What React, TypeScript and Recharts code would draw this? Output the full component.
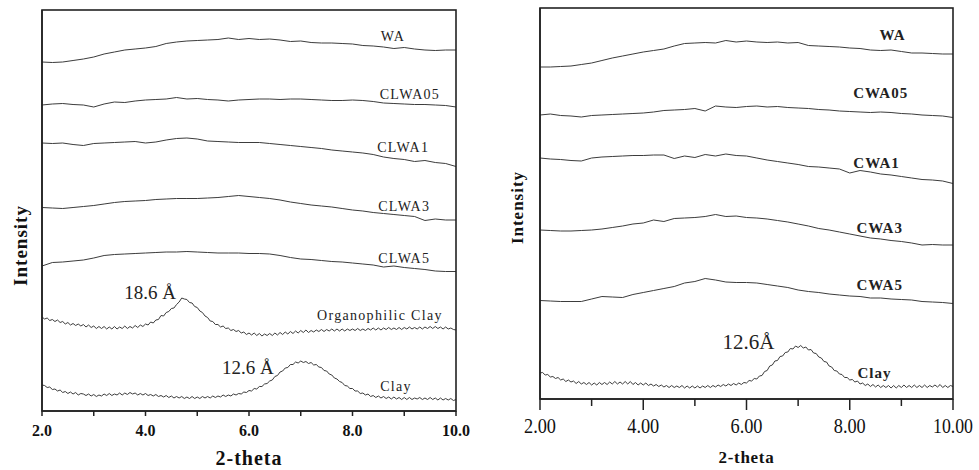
import { LineChart, Line, XAxis, YAxis, ReferenceDot } from 'recharts';

const SERIF = "'Liberation Serif', 'Times New Roman', serif";
const INK = '#222';
const TRACE = '#3c3c3c';

// 2-theta grids
const thetaHalf = [
  2.0, 2.05, 2.1, 2.15, 2.2, 2.25, 2.3, 2.35, 2.4, 2.45, 2.5, 2.55, 2.6, 2.65, 2.7, 2.75, 2.8, 2.85, 2.9, 2.95,
  3.0, 3.05, 3.1, 3.15, 3.2, 3.25, 3.3, 3.35, 3.4, 3.45, 3.5, 3.55, 3.6, 3.65, 3.7, 3.75, 3.8, 3.85, 3.9, 3.95,
  4.0, 4.05, 4.1, 4.15, 4.2, 4.25, 4.3, 4.35, 4.4, 4.45, 4.5, 4.55, 4.6, 4.65, 4.7, 4.75, 4.8, 4.85, 4.9, 4.95,
  5.0, 5.05, 5.1, 5.15, 5.2, 5.25, 5.3, 5.35, 5.4, 5.45, 5.5, 5.55, 5.6, 5.65, 5.7, 5.75, 5.8, 5.85, 5.9, 5.95,
  6.0, 6.05, 6.1, 6.15, 6.2, 6.25, 6.3, 6.35, 6.4, 6.45, 6.5, 6.55, 6.6, 6.65, 6.7, 6.75, 6.8, 6.85, 6.9, 6.95,
  7.0, 7.05, 7.1, 7.15, 7.2, 7.25, 7.3, 7.35, 7.4, 7.45, 7.5, 7.55, 7.6, 7.65, 7.7, 7.75, 7.8, 7.85, 7.9, 7.95,
  8.0, 8.05, 8.1, 8.15, 8.2, 8.25, 8.3, 8.35, 8.4, 8.45, 8.5, 8.55, 8.6, 8.65, 8.7, 8.75, 8.8, 8.85, 8.9, 8.95,
  9.0, 9.05, 9.1, 9.15, 9.2, 9.25, 9.3, 9.35, 9.4, 9.45, 9.5, 9.55, 9.6, 9.65, 9.7, 9.75, 9.8, 9.85, 9.9, 9.95,
  10.0,
];
const thetaCoarse = [
  2.0, 2.2, 2.4, 2.6, 2.8, 3.0, 3.2, 3.4, 3.6, 3.8,
  4.0, 4.2, 4.4, 4.6, 4.8, 5.0, 5.2, 5.4, 5.6, 5.8,
  6.0, 6.2, 6.4, 6.6, 6.8, 7.0, 7.2, 7.4, 7.6, 7.8,
  8.0, 8.2, 8.4, 8.6, 8.8, 9.0, 9.2, 9.4, 9.6, 9.8, 10.0,
];
const xTicks = [2, 3, 4, 5, 6, 7, 8, 9, 10];

// left panel (stacked intensities, a.u.)
const waLeft = [349, 348.5, 349, 350.5, 352, 354, 357, 359, 361, 362, 363, 364.5, 367.5, 369, 370, 370.5, 371, 371.5, 373, 371.5, 372.5, 371.5, 372, 371, 369.5, 370, 368.5, 368, 368, 367.5, 367, 365.5, 365, 364, 362.5, 363.5, 362, 361, 360.5, 361, 361];
const clwa05 = [306, 307, 307.5, 306.5, 306, 304, 307, 309, 308.5, 310, 311, 311.5, 312, 313.5, 312, 312.5, 311.5, 311, 310, 311, 311.5, 312, 312, 311.5, 312, 312, 311.5, 311, 310.5, 310.5, 311, 310.5, 309.5, 308, 307.5, 307, 306.5, 306.5, 306, 305.5, 304];
const clwa1 = [268, 267.5, 268, 266.5, 265.5, 267.5, 268, 268.5, 269, 269.5, 268, 269, 271, 272.5, 273, 272, 270, 269.5, 269, 268.5, 268.5, 268.5, 267.5, 266.5, 265.5, 264.5, 263.5, 262.5, 261, 260, 259, 258, 256.5, 254, 252.5, 251.5, 249.5, 250.5, 248.5, 247.5, 244.5];
const clwa3 = [203.5, 203, 202.5, 203.5, 204.5, 205.5, 207, 208.5, 209.5, 210, 210.5, 211.5, 212, 212.5, 212.5, 212.5, 213, 213.5, 214.5, 215.5, 214.5, 213.5, 212.5, 211, 209, 207.5, 206, 205, 204, 202.5, 201, 200, 198.5, 197.5, 196.5, 195.5, 194.5, 190.5, 192, 191, 191];
const clwa5 = [145, 148.5, 149, 150, 151, 153, 155.5, 156.5, 157, 157.5, 158, 158.5, 159, 159, 159.5, 159, 158.5, 158, 158, 158, 157.5, 157.5, 157, 155.5, 153.5, 152, 151.5, 150.5, 149.5, 149, 148, 147, 146, 144, 145, 143.5, 142.5, 141.5, 140, 139.5, 139.5];
const orgClay = [
  94, 92, 93, 90.5, 91.5, 89.5, 91, 88.5, 89.5, 87, 88.5, 86, 87.5, 85.5, 87, 85, 86.5, 84, 86, 83.5,
  85, 82.5, 84.5, 82.5, 84.5, 82, 84, 82, 84.5, 82, 84, 82.5, 85, 82.5, 84.5, 83, 85.5, 83.5, 86, 84.5,
  87, 86, 89, 88, 91, 91.5, 95.5, 95, 98.5, 99.5, 102.5, 103, 106.5, 109, 113, 112, 111.5, 108.5, 108, 104.5,
  103.5, 100, 98.5, 95, 93.5, 90, 89.5, 86.5, 86.5, 84, 85, 82.5, 83, 80.5, 81.5, 79.5, 80.5, 78, 79, 76.5,
  78, 76, 78, 75.5, 77.5, 75, 77, 75.5, 77.5, 75.5, 78, 76, 78.5, 76.5, 79, 77, 79.5, 77.5, 80, 78,
  80.5, 78.5, 81, 78.5, 80.5, 79, 81, 79.5, 81.5, 79.5, 81.5, 80, 82, 80, 82, 80, 82, 80, 82, 80.5,
  82, 80.5, 82.5, 80.5, 82, 80.5, 82.5, 81, 83, 81, 83, 81, 83, 81.5, 83.5, 81.5, 83, 81.5, 83.5, 81.5,
  83.5, 82, 84, 82, 83.5, 82, 84, 82, 84, 82.5, 84.5, 82.5, 84.5, 82.5, 84, 82, 84, 82, 83, 81.5,
  81,
];
const clayLeft = [
  26, 25.5, 23.5, 24, 21.5, 22, 20, 21, 18.5, 19.5, 17.5, 19, 17, 18.5, 16, 17.5, 17, 15.5, 17, 15,
  16.5, 14.5, 16, 15, 17, 15.5, 17.5, 15.5, 17, 16, 18, 16, 18, 16.5, 18.5, 17, 18, 16, 17.5, 16,
  17.5, 15.5, 16.5, 15, 16.5, 14.5, 15.5, 14, 15.5, 13.5, 15, 13, 14.5, 13, 14.5, 12.5, 14, 12.5, 14.5, 12.5,
  14, 12.5, 14.5, 13, 14.5, 13, 15, 13.5, 15, 14, 16, 14.5, 16, 15, 17, 16, 17.5, 17, 19, 18.5,
  20.5, 20, 22.5, 22, 24.5, 24.5, 27, 27.5, 30, 31, 34.5, 35.5, 39, 40, 43, 43.5, 46.5, 46.5, 49, 48,
  50, 48.5, 49.5, 47.5, 48.5, 46, 46.5, 44, 43.5, 40.5, 40, 37, 36, 33, 32, 29.5, 28.5, 25.5, 25, 22.5,
  22.5, 20, 20, 17.5, 18, 16, 17, 14.5, 15.5, 13.5, 15, 13, 14.5, 12.5, 14, 12, 14, 12, 13.5, 11.5,
  13.5, 11.5, 13.5, 11.5, 13, 12, 13.5, 11.5, 13, 11.5, 13.5, 11.5, 13, 11, 13, 11, 12.5, 11, 12.5, 10.5,
  11.5,
];

// right panel
const waRight = [332, 332, 332.5, 333, 334.5, 336, 338.5, 341, 343, 345, 347, 348.5, 350, 353, 355.5, 356, 356.5, 356, 358.5, 357, 358, 357, 356.5, 357, 356, 356.5, 353.5, 353, 352.5, 352, 351, 350.5, 349, 348.5, 349, 347.5, 346, 346, 345.5, 345, 345];
const cwa05 = [284, 285, 283.5, 283, 282, 283.5, 284, 284.5, 285, 285.5, 286, 287, 288.5, 289, 289.5, 290.5, 288, 293, 292, 291.5, 292.5, 293, 292, 292.5, 291.5, 291, 290.5, 289.5, 289, 288, 287.5, 287, 286.5, 287, 286.5, 285.5, 285, 284, 283.5, 283, 281.5];
const cwa1 = [241, 240, 239.5, 238.5, 238, 241, 242, 242.5, 243, 243.5, 243.5, 244, 244, 240.5, 243, 241.5, 244.5, 243, 245, 243.5, 243, 241, 239, 237.5, 236, 234.5, 232.5, 232, 231, 230, 226, 228.5, 227, 225, 224, 222.5, 221, 219.5, 219, 218, 215.5];
const cwa3 = [169, 168.5, 168, 168, 168.5, 169, 170, 171.5, 173, 175, 176, 179, 177.5, 180.5, 181, 181.5, 182.5, 184.5, 182.5, 183, 181.5, 181, 180, 178.5, 177, 175, 173, 170.5, 169, 167, 165, 163, 161, 160, 158.5, 157.5, 156, 154, 154.5, 154, 154];
const cwa5 = [98.5, 98, 97.5, 97.5, 97.5, 100, 102.5, 102, 101.5, 104.5, 106.5, 108.5, 110.5, 112.5, 116, 117.5, 120.5, 119, 117, 116.5, 116.5, 116, 114.5, 113, 111.5, 109, 107.5, 106.5, 105, 104, 103, 102.5, 101, 101, 100, 99.5, 99, 97.5, 97, 96.5, 95.5];
const clayRight = [
  26, 26.5, 24, 24.5, 22, 22.5, 20.5, 21.5, 19, 20, 17.5, 19, 17, 18, 15.5, 17.5, 15, 16.5, 14.5, 16.5,
  14, 16, 14, 16.5, 14.5, 16.5, 14.5, 17, 15, 17.5, 15, 17, 15, 17.5, 15, 17.5, 14.5, 16.5, 14, 16,
  14, 16, 13.5, 15, 13, 14.5, 12.5, 14, 12, 13.5, 11.5, 13.5, 11.5, 13, 11.5, 13.5, 11, 13, 11, 13,
  11, 13, 11, 13, 11.5, 13.5, 11.5, 13.5, 12, 14, 12.5, 14.5, 13, 15, 13.5, 15.5, 14, 16, 14.5, 16.5,
  16, 18.5, 18, 20.5, 20, 23, 23.5, 27.5, 28.5, 33, 34, 38, 38.5, 42.5, 43, 46.5, 47, 50.5, 50, 53,
  51.5, 53.5, 51, 52, 49, 49.5, 46, 45.5, 42, 41, 37.5, 37, 33, 32, 28.5, 28, 25, 24.5, 21.5, 21.5,
  19, 19.5, 17, 18, 15, 16, 13.5, 15, 12.5, 14.5, 12, 14, 11.5, 13.5, 11.5, 13.5, 11, 13.5, 11, 13.5,
  11.5, 14, 11.5, 13.5, 11.5, 14, 11.5, 13.5, 11.5, 14, 11.5, 13.5, 12, 14, 12, 14.5, 11.5, 13.5, 11.5, 13.5,
  12.5,
];

// annotation text and where it sits (2-theta, intensity)
const leftNames = ['WA', 'CLWA05', 'CLWA1', 'CLWA3', 'CLWA5', 'Organophilic Clay', 'Clay'];
const leftNameX = [8.78, 9.11, 8.98, 9.0, 9.0, 8.53, 8.84];
const leftNameY = [375, 317, 264, 205, 153, 96, 25];
const rightNames = ['WA', 'CWA05', 'CWA1', 'CWA3', 'CWA5', 'Clay'];
const rightNameX = [8.83, 8.6, 8.52, 8.58, 8.58, 8.48];
const rightNameY = [364, 306, 236, 171, 114, 26];
const peaks = [
  { panel: 'left', text: '18.6 Å', x: 4.09, y: 119 },
  { panel: 'left', text: '12.6 Å', x: 5.98, y: 44 },
  { panel: 'right', text: '12.6Å', x: 6.04, y: 57 },
];

const pairs = (xs: number[], ys: number[]) => xs.map((x, i) => ({ x, y: ys[i] }));

const leftSeries = [
  pairs(thetaCoarse, waLeft),
  pairs(thetaCoarse, clwa05),
  pairs(thetaCoarse, clwa1),
  pairs(thetaCoarse, clwa3),
  pairs(thetaCoarse, clwa5),
  pairs(thetaHalf, orgClay),
  pairs(thetaHalf, clayLeft),
];
const rightSeries = [
  pairs(thetaCoarse, waRight),
  pairs(thetaCoarse, cwa05),
  pairs(thetaCoarse, cwa1),
  pairs(thetaCoarse, cwa3),
  pairs(thetaCoarse, cwa5),
  pairs(thetaHalf, clayRight),
];

function LeftTick({ x, y, payload }: any) {
  const v = payload.value as number;
  return (
    <g>
      <line x1={x} y1={y} x2={x} y2={y + 5} stroke={INK} strokeWidth={1.5} />
      {v % 2 === 0 && (
        <text x={x} y={y + 25} textAnchor="middle" fontFamily={SERIF} fontWeight="bold" fontSize={16} fill="#111">
          {v.toFixed(1)}
        </text>
      )}
    </g>
  );
}

function RightTick({ x, y, payload }: any) {
  const v = payload.value as number;
  const major = v % 2 === 0;
  const label = v.toFixed(2);
  return (
    <g>
      <line x1={x} y1={y} x2={x} y2={y + (major ? 11 : 7)} stroke={INK} strokeWidth={1.5} />
      {major && (
        <text x={x} y={y + 34} textAnchor="middle" fontFamily={SERIF} fontSize={21} fill="#111"
          textLength={label.length * 8} lengthAdjust="spacingAndGlyphs">
          {label}
        </text>
      )}
    </g>
  );
}

const frame = { stroke: INK, strokeWidth: 1.5 };

export default function App() {
  return (
    <div style={{ position: 'absolute', left: 0, top: 0, width: 979, height: 470, background: '#fff' }}>
      <div style={{ position: 'absolute', left: 0, top: 0 }}>
        <LineChart width={490} height={470} margin={{ top: 10, right: 34, bottom: 0, left: 0 }}>
          <XAxis type="number" dataKey="x" domain={[2, 10]} ticks={xTicks} height={59}
            axisLine={frame} tickLine={false} tickSize={0} tickMargin={0}
            tick={<LeftTick />}
            label={{ value: '2-theta', position: 'insideBottom', offset: 5, fontFamily: SERIF, fontWeight: 'bold', fontSize: 20, letterSpacing: 1, fill: '#111' }} />
          <YAxis type="number" domain={[0, 401]} width={42} tick={false} tickLine={false}
            axisLine={frame}
            label={{ value: 'Intensity', position: 'center', angle: -90, dx: -1, dy: 35, fontFamily: SERIF, fontWeight: 'bold', fontSize: 19, letterSpacing: 1, fill: '#111' }} />
          {leftSeries.map((d, i) => (
            <Line key={i} data={d} dataKey="y" type="linear" stroke={TRACE} strokeWidth={1} dot={false} isAnimationActive={false} />
          ))}
          {leftNames.map((n, i) => (
            <ReferenceDot key={n} x={leftNameX[i]} y={leftNameY[i]} r={0} stroke="none" fill="none"
              label={{ value: n, position: 'center', fontFamily: SERIF, fontSize: 14, letterSpacing: 1.3, fill: '#222' }} />
          ))}
          {peaks.filter((p) => p.panel === 'left').map((p) => (
            <ReferenceDot key={p.text + p.x} x={p.x} y={p.y} r={0} stroke="none" fill="none"
              label={{ value: p.text, position: 'center', fontFamily: SERIF, fontSize: 19, fill: '#222' }} />
          ))}
        </LineChart>
      </div>
      <div style={{ position: 'absolute', left: 490, top: 0 }}>
        <LineChart width={489} height={470} margin={{ top: 8, right: 26, bottom: 0, left: 0 }}>
          <XAxis type="number" dataKey="x" domain={[2, 10]} ticks={xTicks} height={71}
            axisLine={frame} tickLine={false} tickSize={0} tickMargin={0}
            tick={<RightTick />}
            label={{ value: '2-theta', position: 'insideBottom', offset: 7, fontFamily: SERIF, fontWeight: 'bold', fontSize: 17, letterSpacing: 0.7, fill: '#111' }} />
          <YAxis type="number" domain={[0, 391]} width={50} tick={false} tickLine={false}
            axisLine={frame}
            label={{ value: 'Intensity', position: 'center', angle: -90, dx: 2, dy: 4, fontFamily: SERIF, fontWeight: 'bold', fontSize: 17, letterSpacing: 1, fill: '#111' }} />
          {rightSeries.map((d, i) => (
            <Line key={i} data={d} dataKey="y" type="linear" stroke={TRACE} strokeWidth={1} dot={false} isAnimationActive={false} />
          ))}
          {rightNames.map((n, i) => (
            <ReferenceDot key={n} x={rightNameX[i]} y={rightNameY[i]} r={0} stroke="none" fill="none"
              label={{ value: n, position: 'center', fontFamily: SERIF, fontWeight: 'bold', fontSize: 15, letterSpacing: 1, fill: '#222' }} />
          ))}
          {peaks.filter((p) => p.panel === 'right').map((p) => (
            <ReferenceDot key={p.text + p.x} x={p.x} y={p.y} r={0} stroke="none" fill="none"
              label={{ value: p.text, position: 'center', fontFamily: SERIF, fontSize: 21, fill: '#222' }} />
          ))}
        </LineChart>
      </div>
      {/* box frames around both plot areas */}
      <svg width={420} height={410} style={{ position: 'absolute', left: 40, top: 6 }}>
        <rect x={2} y={4} width={414} height={401} fill="none" stroke={INK} strokeWidth={1.6} />
      </svg>
      <svg width={420} height={400} style={{ position: 'absolute', left: 538, top: 4 }}>
        <rect x={2} y={4} width={413} height={391} fill="none" stroke={INK} strokeWidth={1.6} />
      </svg>
    </div>
  );
}
